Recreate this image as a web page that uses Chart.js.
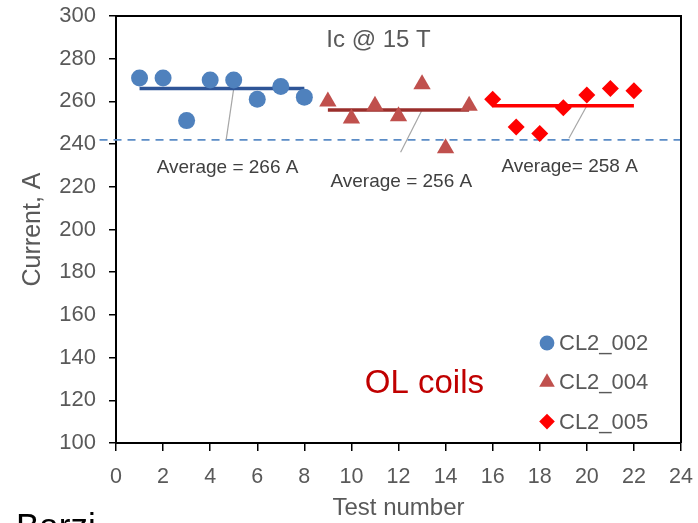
<!DOCTYPE html>
<html>
<head>
<meta charset="utf-8">
<script src="https://cdn.jsdelivr.net/npm/chart.js@4/dist/chart.umd.min.js"></script>
<style>
  html, body { margin: 0; padding: 0; background: #fff; overflow: hidden; }
  #wrap { width: 698px; height: 523px; position: relative; }
</style>
</head>
<body>
<div id="wrap"><canvas id="c" width="698" height="523"></canvas></div>
<script>
// Measured critical current at 15 T, per test, for the three OL coils
const testsCL2_002 = [1, 2, 3, 4, 5, 6, 7, 8];
const currentCL2_002 = [271, 271, 251, 270, 270, 261, 267, 262];

const testsCL2_004 = [9, 10, 11, 12, 13, 14, 15];
const currentCL2_004 = [260, 252, 258, 253, 268, 238, 258];

const testsCL2_005 = [16, 17, 18, 19, 20, 21, 22];
const currentCL2_005 = [261, 248, 245, 257, 263, 266, 265];

// Per-coil averages (A) and the common reference level (A)
const coilNames = ['CL2_002', 'CL2_004', 'CL2_005'];
const averages = [266, 256, 258];
const referenceLevel = 242;

// Axis ticks
const xTickStep = 2;
const yTickStep = 20;
const xRange = [0, 24];
const yRange = [100, 300];

const SANS = '"Liberation Sans", Arial, sans-serif';
const GREY = '#595959';

const toPoints = (xs, ys) => xs.map((v, i) => ({ x: v, y: ys[i] }));
const span = (xs, level) => [{ x: xs[0], y: level }, { x: xs[xs.length - 1], y: level }];

// Leader lines from each average bar down to its caption
const leaders = [
  [{ x: 5, y: averages[0] }, { x: 4.68, y: 242 }],
  [{ x: 13, y: averages[1] }, { x: 12.09, y: 236.2 }],
  [{ x: 20, y: averages[2] }, { x: 19.24, y: 242.7 }]
];

// Captions placed in data coordinates
const notes = [
  { text: 'Ic @ 15 T', x: 11.15, y: 288.8, font: '24px ' + SANS, color: GREY },
  { text: 'Average = ' + averages[0] + ' A', x: 4.74, y: 228.8, font: '19px ' + SANS, color: '#404040' },
  { text: 'Average = ' + averages[1] + ' A', x: 12.12, y: 222.4, font: '19px ' + SANS, color: '#404040' },
  { text: 'Average= ' + averages[2] + ' A', x: 19.27, y: 229.4, font: '19px ' + SANS, color: '#404040' },
  { text: 'OL coils', x: 13.1, y: 127.5, font: '33px ' + SANS, color: '#C00000' }
];

const markerColors = ['#4F81BD', '#C0504D', '#FF0000'];
const markerStyles = ['circle', 'triangle', 'rectRot'];
const markerRadii = [8.5, 10, 8.5];
const avgColors = ['#2F5597', '#9A2E2B', '#FF0000'];

const seriesX = [testsCL2_002, testsCL2_004, testsCL2_005];
const seriesY = [currentCL2_002, currentCL2_004, currentCL2_005];

const datasets = [];
// Marker series first so they sit on top of the helper lines
coilNames.forEach((name, i) => {
  datasets.push({
    label: name,
    data: toPoints(seriesX[i], seriesY[i]),
    showLine: false,
    pointStyle: markerStyles[i],
    pointRadius: markerRadii[i],
    pointHoverRadius: markerRadii[i],
    backgroundColor: markerColors[i],
    borderColor: markerColors[i],
    borderWidth: 0
  });
});
coilNames.forEach((name, i) => {
  datasets.push({
    label: name + ' average',
    data: span(seriesX[i], averages[i]),
    showLine: true,
    pointRadius: 0,
    borderColor: avgColors[i],
    borderWidth: 3.5
  });
});
leaders.forEach((pts, i) => {
  datasets.push({
    label: 'leader ' + i,
    data: pts,
    showLine: true,
    pointRadius: 0,
    borderColor: '#A6A6A6',
    borderWidth: 1.2
  });
});
datasets.push({
  label: 'reference',
  data: [{ x: -0.7, y: referenceLevel }, { x: xRange[1], y: referenceLevel }],
  showLine: true,
  pointRadius: 0,
  borderColor: '#5B8CC6',
  borderWidth: 1.6,
  borderDash: [8, 6],
  clip: false
});

function marker(ctx, style, r, cx, cy, color) {
  ctx.fillStyle = color;
  if (Chart.helpers && Chart.helpers.drawPoint) {
    Chart.helpers.drawPoint(ctx, { pointStyle: style, radius: r, rotation: 0, borderWidth: 0 }, cx, cy);
    return;
  }
  ctx.beginPath();
  if (style === 'circle') ctx.arc(cx, cy, r, 0, Math.PI * 2);
  else if (style === 'triangle') {
    ctx.moveTo(cx, cy - r);
    ctx.lineTo(cx + r * 0.866, cy + r * 0.5);
    ctx.lineTo(cx - r * 0.866, cy + r * 0.5);
  } else {
    ctx.moveTo(cx, cy - r); ctx.lineTo(cx + r, cy); ctx.lineTo(cx, cy + r); ctx.lineTo(cx - r, cy);
  }
  ctx.closePath();
  ctx.fill();
}

const decorations = {
  id: 'decorations',
  afterDatasetsDraw(chart) {
    const { ctx, chartArea: a, scales: { x, y } } = chart;
    ctx.save();
    // closing frame on top and right
    ctx.strokeStyle = '#000';
    ctx.lineWidth = 2;
    ctx.setLineDash([]);
    ctx.beginPath();
    ctx.moveTo(a.left, a.top);
    ctx.lineTo(a.right, a.top);
    ctx.lineTo(a.right, a.bottom);
    ctx.stroke();

    // captions
    ctx.textAlign = 'center';
    ctx.textBaseline = 'middle';
    notes.forEach(n => {
      ctx.font = n.font;
      ctx.fillStyle = n.color;
      ctx.fillText(n.text, x.getPixelForValue(n.x), y.getPixelForValue(n.y));
    });

    // legend, bottom right inside the plot
    const lx = a.right - 134;
    const ly0 = a.bottom - 100;
    ctx.font = '22px ' + SANS;
    ctx.textAlign = 'left';
    coilNames.forEach((name, i) => {
      const ly = ly0 + i * 39.3;
      marker(ctx, markerStyles[i], [7.4, 9, 7.8][i], lx, ly, markerColors[i]);
      ctx.fillStyle = GREY;
      ctx.fillText(name, lx + 12, ly + 1);
    });

    // author credit at the lower left edge
    ctx.font = '35px ' + SANS;
    ctx.fillStyle = '#000';
    ctx.textBaseline = 'alphabetic';
    ctx.fillText('Barzi', 16, 538);
    ctx.restore();
  }
};

new Chart(document.getElementById('c'), {
  type: 'scatter',
  data: { datasets },
  plugins: [decorations],
  options: {
    responsive: false,
    animation: false,
    events: [],
    layout: { padding: { top: 16, right: 17, left: 0, bottom: 0 } },
    plugins: { legend: { display: false }, tooltip: { enabled: false } },
    scales: {
      x: {
        type: 'linear',
        min: xRange[0],
        max: xRange[1],
        afterFit: s => { s.height = 80; s.paddingLeft = 0; s.paddingRight = 0; },
        ticks: { stepSize: xTickStep, color: GREY, font: { family: SANS, size: 21.5 }, padding: 13, maxRotation: 0 },
        grid: { drawOnChartArea: false, drawTicks: true, tickLength: 8, color: '#000', lineWidth: 1.5 },
        border: { display: true, color: '#000', width: 2 },
        title: { display: true, text: 'Test number', color: GREY, font: { family: SANS, size: 24 }, padding: { top: 0, bottom: 0 } }
      },
      y: {
        min: yRange[0],
        max: yRange[1],
        afterFit: s => { s.width = 116; s.paddingTop = 0; s.paddingBottom = 0; },
        ticks: { stepSize: yTickStep, color: GREY, font: { family: SANS, size: 22 }, padding: 13 },
        grid: { drawOnChartArea: false, drawTicks: true, tickLength: 7, color: '#000', lineWidth: 1.5 },
        border: { display: true, color: '#000', width: 2 },
        title: { display: true, text: 'Current, A', color: GREY, font: { family: SANS, size: 25 }, padding: { top: 18, bottom: 0 } }
      }
    }
  }
});
</script>
</body>
</html>
